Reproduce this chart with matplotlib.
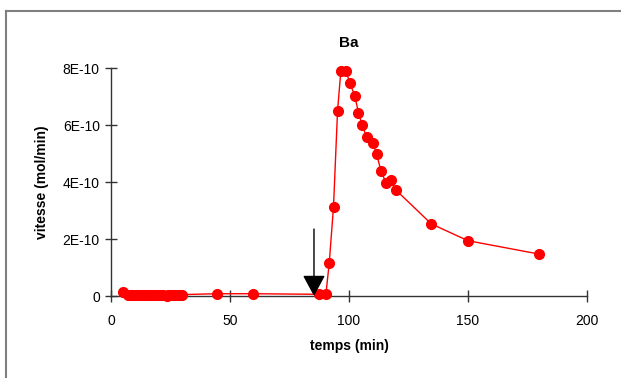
import matplotlib

matplotlib.use("Agg")
import matplotlib.pyplot as plt
from matplotlib.lines import Line2D
from matplotlib.ticker import FuncFormatter

# temps (min) / vitesse (mol/min)
temps = [5.2, 7, 8, 9, 10, 11, 12, 13, 14, 15, 16, 17, 18, 19, 20, 21, 22,
         23.4, 24, 25, 26, 27, 28, 29, 30, 44.5, 59.5, 87.2, 90.3,
         91.7, 93.5, 95.2, 96.6, 98.7, 100.4, 102.4, 104, 105.5, 107.4,
         110, 111.6, 113.4, 115.7, 117.5, 119.7, 134.6, 150, 180]
vitesse = [1.5e-11, 0.4e-11, 0.2e-11, 0.2e-11, 0.2e-11, 0.2e-11, 0.2e-11,
           0.3e-11, 0.3e-11, 0.3e-11, 0.4e-11, 0.4e-11, 0.5e-11, 0.5e-11,
           0.5e-11, 0.5e-11, 0.4e-11, 0.0, 0.3e-11, 0.4e-11, 0.4e-11,
           0.5e-11, 0.5e-11, 0.5e-11, 0.5e-11, 0.8e-11, 0.8e-11, 0.6e-11,
           0.6e-11, 1.15e-10, 3.13e-10, 6.5e-10, 7.9e-10, 7.9e-10, 7.47e-10,
           7.03e-10, 6.43e-10, 6.01e-10, 5.57e-10, 5.37e-10, 5.0e-10,
           4.39e-10, 3.95e-10, 4.07e-10, 3.72e-10, 2.53e-10, 1.94e-10,
           1.47e-10]
x_ticks = [0, 50, 100, 150, 200]
y_ticks = [0, 2e-10, 4e-10, 6e-10, 8e-10]
arrow_t = 85.3  # injection
arrow_top = 2.35e-10

plt.rcParams["font.family"] = ["Liberation Sans", "DejaVu Sans"]
fig = plt.figure(figsize=(6.21, 3.78), dpi=100)
ax = fig.add_axes([0.1787, 0.2169, 0.7665, 0.6032])

ax.plot(temps, vitesse, "-", color="red", linewidth=1.0, marker="o",
        markersize=7, markerfacecolor="red", markeredgecolor="red",
        clip_on=False, zorder=3)

ax.annotate("", xy=(arrow_t, 0), xytext=(arrow_t, arrow_top),
            arrowprops=dict(arrowstyle="-|>,head_length=1.3,head_width=0.7",
                            color="black", lw=1.0, shrinkA=0, shrinkB=0),
            zorder=4)

ax.set_xlim(0, 200)
ax.set_ylim(0, 8e-10)
ax.set_xticks(x_ticks)
ax.set_yticks(y_ticks)
ax.yaxis.set_major_formatter(
    FuncFormatter(lambda v, _: "0" if v == 0 else f"{v * 1e10:.0f}E-10"))
ax.tick_params(direction="inout", length=8, width=1, color="#333333",
               labelsize=10, pad=4)
ax.tick_params(axis="x", pad=9)
for side in ("top", "right"):
    ax.spines[side].set_visible(False)
for side in ("left", "bottom"):
    ax.spines[side].set_color("#333333")
    ax.spines[side].set_linewidth(1.0)

ax.set_title("Ba", fontsize=11, fontweight="bold", pad=15)
ax.set_xlabel("temps (min)", fontsize=10, fontweight="bold", labelpad=8)
ax.set_ylabel("vitesse (mol/min)", fontsize=10, fontweight="bold", labelpad=10)

# cadre gris du graphique (coupé à droite et en bas)
x0, y0 = 6 / 621, 1 - 11 / 378
fig.add_artist(Line2D([x0, x0], [0, y0], color="#808080", lw=1.5))
fig.add_artist(Line2D([x0, 1], [y0, y0], color="#808080", lw=1.5))

fig.savefig("out.png", dpi=100)
